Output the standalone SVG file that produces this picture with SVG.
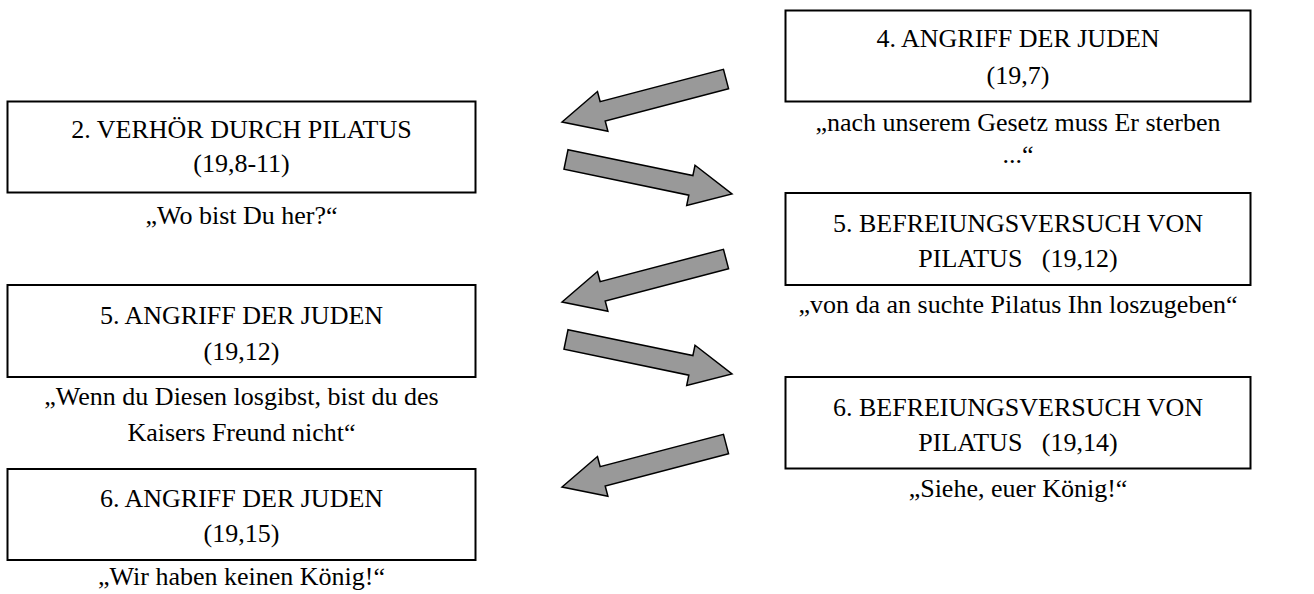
<svg xmlns="http://www.w3.org/2000/svg" xmlns:xlink="http://www.w3.org/1999/xlink" width="1314" height="594" viewBox="0 0 1314 594">
<style>
.box{fill:#ffffff;stroke:#000000;stroke-width:2}
.t{font-family:'Liberation Serif','Times New Roman',Tinos,'DejaVu Serif',serif;font-size:26px;fill:#000000;text-anchor:middle}
.arr{fill:#999999;stroke:#000000;stroke-width:1.5;stroke-linejoin:miter}
</style>
<defs>
<polygon id="arrow" class="arr" points="0,-10 127.5,-10 127.5,-20.5 169.5,0 127.5,20.5 127.5,10 0,10"/>
</defs>
<rect width="1314" height="594" fill="#ffffff"/>
<g id="connectors">
<use xlink:href="#arrow" transform="translate(726,79) rotate(165.3)"/>
<use xlink:href="#arrow" transform="translate(566,159.5) rotate(11.7)"/>
<use xlink:href="#arrow" transform="translate(726,259) rotate(165.3)"/>
<use xlink:href="#arrow" transform="translate(566,339.5) rotate(11.7)"/>
<use xlink:href="#arrow" transform="translate(726,444) rotate(165.3)"/>
</g>
<g font-family="Liberation Serif, serif">
<g id="n4">
<rect class="box" x="785.5" y="10.5" width="465" height="91"/>
<text class="t" x="1018" y="47">4. ANGRIFF DER JUDEN</text>
<text class="t" x="1018" y="84">(19,7)</text>
<text class="t" x="1018" y="131">„nach unserem Gesetz muss Er sterben</text>
<text class="t" x="1018" y="163">...“</text>
</g>
<g id="n2">
<rect class="box" x="7.5" y="101.5" width="468" height="91"/>
<text class="t" x="241.5" y="138">2. VERHÖR DURCH PILATUS</text>
<text class="t" x="241.5" y="172">(19,8-11)</text>
<text class="t" x="241.5" y="224">„Wo bist Du her?“</text>
</g>
<g id="n5b">
<rect class="box" x="785.5" y="193" width="465" height="92"/>
<text class="t" x="1018" y="232">5. BEFREIUNGSVERSUCH VON</text>
<text class="t" x="1018" y="267" xml:space="preserve">PILATUS   (19,12)</text>
<text class="t" x="1018" y="313">„von da an suchte Pilatus Ihn loszugeben“</text>
</g>
<g id="n5a">
<rect class="box" x="7.5" y="285" width="468" height="92"/>
<text class="t" x="241.5" y="324">5. ANGRIFF DER JUDEN</text>
<text class="t" x="241.5" y="360">(19,12)</text>
<text class="t" x="241.5" y="405">„Wenn du Diesen losgibst, bist du des</text>
<text class="t" x="241.5" y="441">Kaisers Freund nicht“</text>
</g>
<g id="n6b">
<rect class="box" x="785.5" y="377" width="465" height="91.5"/>
<text class="t" x="1018" y="416">6. BEFREIUNGSVERSUCH VON</text>
<text class="t" x="1018" y="451" xml:space="preserve">PILATUS   (19,14)</text>
<text class="t" x="1018" y="497">„Siehe, euer König!“</text>
</g>
<g id="n6a">
<rect class="box" x="7.5" y="469" width="468" height="91"/>
<text class="t" x="241.5" y="507">6. ANGRIFF DER JUDEN</text>
<text class="t" x="241.5" y="542">(19,15)</text>
<text class="t" x="241.5" y="585">„Wir haben keinen König!“</text>
</g>
</g>
</svg>
